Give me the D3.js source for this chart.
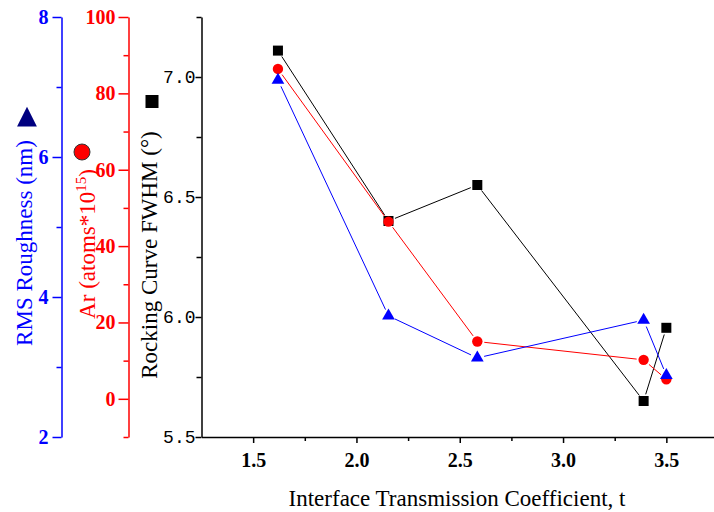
<!DOCTYPE html>
<html>
<head>
<meta charset="utf-8">
<script src="https://cdn.jsdelivr.net/npm/d3@7"></script>
<style>
  body { margin: 0; background: #fff; }
  svg { display: block; }
</style>
</head>
<body>
<script>
// data
const tValues = [1.62, 2.155, 2.585, 3.39, 3.50]
const fwhmValues = [7.11, 6.40, 6.55, 5.65, 5.955]
const arValues = [86.4, 46.4, 15.0, 10.2, 5.1]
const rmsValues = [7.1, 3.73, 3.13, 3.67, 2.88]

const xTicks = [1.5, 2.0, 2.5, 3.0, 3.5]
const xMinor = [1.75, 2.25, 2.75, 3.25]
const fwhmTicks = [5.5, 6.0, 6.5, 7.0]
const fwhmMinor = [5.75, 6.25, 6.75, 7.25]
const arTicks = [0, 20, 40, 60, 80, 100]
const arMinor = [-10, 10, 30, 50, 70, 90]
const rmsTicks = [2, 4, 6, 8]
const rmsMinor = [3, 5, 7]

const w = 714
const h = 512
const yTop = 17
const yBottom = 437
const serif = '"Liberation Serif", "Times New Roman", serif'

const svg = d3.select('body').append('svg')
  .attr('width', w)
  .attr('height', h)

const xScale = d3.scaleLinear().domain([1.25, 3.75]).range([201.5, 718])
const yMain = d3.scaleLinear().domain([5.5, 7.25]).range([yBottom, yTop])
const yAr = d3.scaleLinear().domain([-10, 100]).range([yBottom, yTop])
const yRms = d3.scaleLinear().domain([2, 8]).range([yBottom, yTop])

function styleAxis(g, color, width) {
  g.select('.domain').attr('stroke', color).attr('stroke-width', width)
  g.selectAll('.tick line').attr('stroke', color).attr('stroke-width', width)
}

function boldLabels(g, color) {
  g.selectAll('text')
    .style('font-family', serif)
    .style('font-weight', 'bold')
    .style('font-size', '20px')
    .attr('fill', color)
}

// x axis
const gx = svg.append('g').attr('transform', `translate(0,${yBottom})`)
gx.call(d3.axisBottom(xScale).tickValues(xTicks).tickSize(6).tickSizeOuter(0).tickPadding(10).tickFormat(d3.format('.1f')))
styleAxis(gx, '#000', 1.5)
boldLabels(gx, '#000')
const gxm = svg.append('g').attr('transform', `translate(0,${yBottom})`)
gxm.call(d3.axisBottom(xScale).tickValues(xMinor).tickSize(4).tickFormat(''))
gxm.select('.domain').remove()
styleAxis(gxm, '#000', 1.5)

// main y axis (FWHM)
const gy = svg.append('g').attr('transform', `translate(${xScale(1.25)},0)`)
gy.call(d3.axisLeft(yMain).tickValues(fwhmTicks).tickSize(6).tickSizeOuter(0).tickPadding(0).tickFormat(d3.format('.1f')))
styleAxis(gy, '#000', 1.5)
gy.selectAll('text')
  .style('font-family', '"Liberation Mono", "Courier New", monospace')
  .style('font-size', '18px')
  .attr('fill', '#000')
const gym = svg.append('g').attr('transform', `translate(${xScale(1.25)},0)`)
gym.call(d3.axisLeft(yMain).tickValues(fwhmMinor).tickSize(5).tickFormat(''))
gym.select('.domain').remove()
styleAxis(gym, '#000', 1.5)

// Ar axis (red)
const arX = 128.5
const ga = svg.append('g').attr('transform', `translate(${arX},0)`)
ga.call(d3.axisLeft(yAr).tickValues(arTicks).tickSize(10).tickSizeOuter(0).tickPadding(3).tickFormat(d3.format('d')))
styleAxis(ga, '#ff0000', 1.5)
boldLabels(ga, '#ff0000')
const gam = svg.append('g').attr('transform', `translate(${arX},0)`)
gam.call(d3.axisLeft(yAr).tickValues(arMinor).tickSize(5).tickFormat(''))
gam.select('.domain').remove()
styleAxis(gam, '#ff0000', 1.5)

// RMS axis (blue)
const rmsX = 61.5
const gr = svg.append('g').attr('transform', `translate(${rmsX},0)`)
gr.call(d3.axisLeft(yRms).tickValues(rmsTicks).tickSize(9).tickSizeOuter(0).tickPadding(4).tickFormat(d3.format('d')))
styleAxis(gr, '#0000ff', 1.5)
boldLabels(gr, '#0000ff')
const grm = svg.append('g').attr('transform', `translate(${rmsX},0)`)
grm.call(d3.axisLeft(yRms).tickValues(rmsMinor).tickSize(5).tickFormat(''))
grm.select('.domain').remove()
styleAxis(grm, '#0000ff', 1.5)

// axis titles
function title(sel) {
  return sel.attr('text-anchor', 'middle')
    .style('font-family', serif)
    .style('font-size', '23px')
}

title(svg.append('text'))
  .attr('x', 457).attr('y', 506)
  .attr('fill', '#000')
  .text('Interface Transmission Coefficient, t')

title(svg.append('text'))
  .attr('transform', 'translate(157,255) rotate(-90)')
  .attr('fill', '#000')
  .text('Rocking Curve FWHM (°)')

const arTitle = title(svg.append('text'))
  .attr('transform', 'translate(95,244) rotate(-90)')
  .attr('fill', '#ff0000')
arTitle.append('tspan').text('Ar (atoms*10')
arTitle.append('tspan').attr('dy', -9).style('font-size', '15px').text('15')
arTitle.append('tspan').attr('dy', 9).text(')')

title(svg.append('text'))
  .attr('transform', 'translate(32,243) rotate(-90)')
  .attr('fill', '#0000ff')
  .text('RMS Roughness (nm)')

// legend symbols next to titles
svg.append('rect').attr('x', 145.5).attr('y', 95).attr('width', 13).attr('height', 13).attr('fill', '#000')
svg.append('circle').attr('cx', 82).attr('cy', 152).attr('r', 8).attr('fill', '#ff0000').attr('stroke', '#333').attr('stroke-width', 1)
svg.append('path').attr('d', d3.symbol(d3.symbolTriangle, 170)()).attr('transform', 'translate(27,120) scale(1,1.15)').attr('fill', '#000080')

// series
const series = [
  { values: fwhmValues, y: yMain, color: '#000000', shape: 'square' },
  { values: arValues, y: yAr, color: '#ff0000', shape: 'circle' },
  { values: rmsValues, y: yRms, color: '#0000ff', shape: 'triangle' }
]

const gap = 7
series.forEach(s => {
  const pts = tValues.map((t, i) => [xScale(t), s.y(s.values[i])])
  // line segments stop short of the markers
  const segs = []
  for (let i = 0; i < pts.length - 1; i++) {
    const [x0, y0] = pts[i]
    const [x1, y1] = pts[i + 1]
    const len = Math.hypot(x1 - x0, y1 - y0)
    const ux = (x1 - x0) / len
    const uy = (y1 - y0) / len
    segs.push([[x0 + ux * gap, y0 + uy * gap], [x1 - ux * gap, y1 - uy * gap]])
  }
  svg.append('g').selectAll('line')
    .data(segs)
    .enter()
    .append('line')
    .attr('x1', d => d[0][0]).attr('y1', d => d[0][1])
    .attr('x2', d => d[1][0]).attr('y2', d => d[1][1])
    .attr('stroke', s.color)
    .attr('stroke-width', 1)
})

series.forEach(s => {
  const g = svg.append('g')
  const pts = tValues.map((t, i) => [xScale(t), s.y(s.values[i])])
  if (s.shape === 'square') {
    g.selectAll('rect').data(pts).enter().append('rect')
      .attr('x', d => d[0] - 5).attr('y', d => d[1] - 5)
      .attr('width', 10).attr('height', 10)
      .attr('fill', s.color)
  } else if (s.shape === 'circle') {
    g.selectAll('circle').data(pts).enter().append('circle')
      .attr('cx', d => d[0]).attr('cy', d => d[1])
      .attr('r', 5.2)
      .attr('fill', s.color)
  } else {
    g.selectAll('path').data(pts).enter().append('path')
      .attr('d', d3.symbol(d3.symbolTriangle, 70)())
      .attr('transform', d => `translate(${d[0]},${d[1]})`)
      .attr('fill', s.color)
  }
})
</script>
</body>
</html>
